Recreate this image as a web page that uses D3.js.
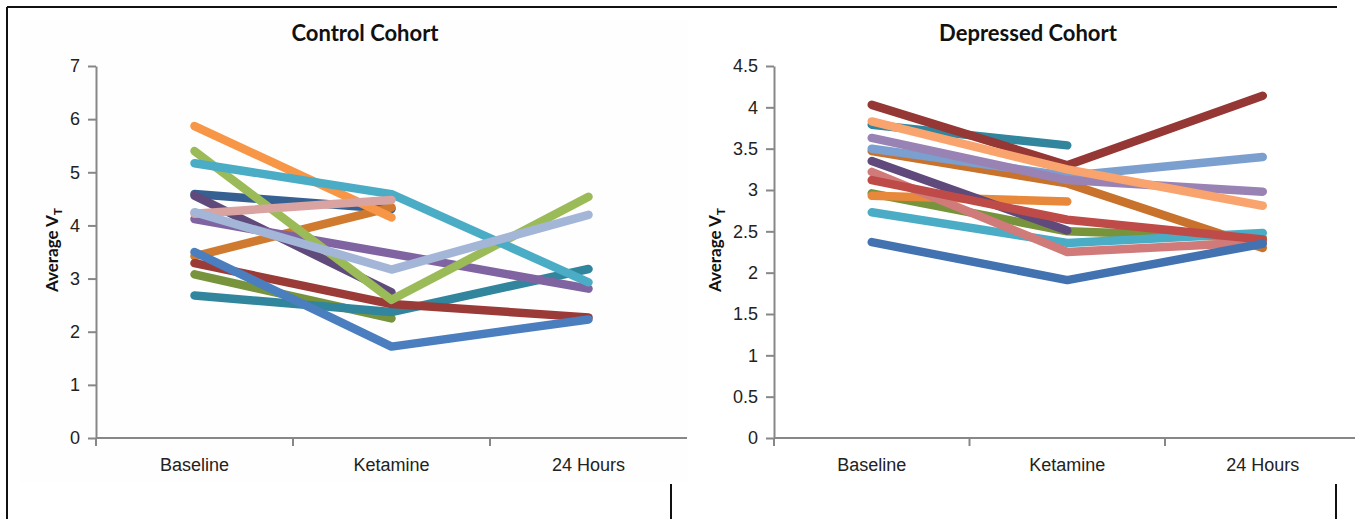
<!DOCTYPE html>
<html>
<head>
<meta charset="utf-8">
<script src="https://cdn.jsdelivr.net/npm/d3@7"></script>
<style>
  body { margin: 0; background: #fff; }
  svg { display: block; font-family: Lato, "Open Sans", sans-serif; }
  .axis path, .axis line { stroke: #878787; stroke-width: 2px; }
  .axis text { fill: #222; font-size: 18px; }
  .title { font-size: 22px; font-weight: bold; fill: #111; }
  .ytitle { font-size: 17px; font-weight: bold; fill: #111; }
  .series { fill: none; stroke-width: 8.5px; stroke-linecap: round; stroke-linejoin: round; }
</style>
</head>
<body>
<svg id="chart" width="1355" height="519"></svg>
<script>

var categories = ["Baseline", "Ketamine", "24 Hours"]

// ---control cohort, one row per subject [baseline, ketamine, 24h]---
var controlValues = [
  [4.59, 4.31, null],
  [3.42, 4.34, null],
  [4.56, 2.74, null],
  [3.08, 2.25, null],
  [2.68, 2.37, 3.18],
  [3.29, 2.52, 2.27],
  [4.12, 3.47, 2.81],
  [5.40, 2.60, 4.54],
  [5.87, 4.15, null],
  [5.17, 4.59, 2.93],
  [4.22, 4.48, null],
  [4.25, 3.17, 4.20],
  [3.50, 1.72, 2.23]
]
var controlColors = ["#376092", "#d07a30", "#5f4a7b", "#77933c", "#31859c", "#9b3b38", "#8064a2",
  "#9bbb59", "#f79646", "#4bacc6", "#d9a3a1", "#a4b6d7", "#4a7ebf"]
var controlTicks = [0, 1, 2, 3, 4, 5, 6, 7]

// ---depressed cohort---
var depressedValues = [
  [3.47, 3.08, 2.30],
  [3.79, 3.54, null],
  [2.96, 2.50, 2.42],
  [2.93, 2.86, null],
  [3.35, 2.51, null],
  [2.73, 2.36, 2.48],
  [3.22, 2.25, 2.37],
  [3.50, 3.17, 3.40],
  [3.63, 3.12, 2.98],
  [3.12, 2.64, 2.40],
  [2.37, 1.91, 2.35],
  [4.03, 3.30, 4.14],
  [3.83, 3.25, 2.81]
]
var depressedColors = ["#c8722c", "#31859c", "#77933c", "#e8883a", "#5f4a7b", "#4bacc6", "#d07a7a",
  "#7b9fcf", "#9983b5", "#be4b48", "#4372b0", "#953735", "#f9a46e"]
var depressedTicks = [0, 0.5, 1, 1.5, 2, 2.5, 3, 3.5, 4, 4.5]

var svg = d3.select("#chart")

// frame of the screenshot
svg.append("rect").attr("x", 20).attr("y", 20).attr("width", 668).attr("height", 462).attr("fill", "#fefefe")
svg.append("line").attr("x1", 7).attr("x2", 1337).attr("y1", 7).attr("y2", 7).attr("stroke", "#111").attr("stroke-width", 2)
svg.append("line").attr("x1", 7).attr("x2", 7).attr("y1", 7).attr("y2", 519).attr("stroke", "#111").attr("stroke-width", 2)
svg.append("line").attr("x1", 671).attr("x2", 671).attr("y1", 484).attr("y2", 519).attr("stroke", "#111").attr("stroke-width", 2)
svg.append("line").attr("x1", 1336).attr("x2", 1336).attr("y1", 484).attr("y2", 519).attr("stroke", "#111").attr("stroke-width", 2)

function buildCohortChart(opt)
{
  var xScale = d3.scaleBand()
      .domain(categories)
      .range([opt.left, opt.left + 3 * opt.step])

  var yScale = d3.scaleLinear()
      .domain([0, opt.max])
      .range([438, 66])

  var g = svg.append("g")

  // y axis
  g.append("g")
      .attr("class", "axis")
      .attr("transform", "translate(" + opt.left + ",0)")
      .call(d3.axisLeft(yScale)
          .tickValues(opt.ticks)
          .tickSize(8)
          .tickSizeOuter(0)
          .tickPadding(8)
          .tickFormat(d3.format("")))

  // x axis, labels at band centres
  var xAxis = g.append("g")
      .attr("class", "axis")
      .attr("transform", "translate(0,438)")
      .call(d3.axisBottom(xScale).tickSize(0).tickPadding(20))
  xAxis.select(".domain").attr("d", "M" + opt.left + ",0H" + opt.axisEnd)

  // tick marks on the band edges
  g.selectAll(".xtick")
      .data(categories)
      .enter().append("line")
      .attr("class", "xtick")
      .attr("x1", function(d) { return xScale(d); })
      .attr("x2", function(d) { return xScale(d); })
      .attr("y1", 438).attr("y2", 446)
      .attr("stroke", "#878787").attr("stroke-width", 2)

  var line = d3.line()
      .defined(function(d) { return d != null; })
      .x(function(d, i) { return xScale(categories[i]) + xScale.bandwidth() / 2; })
      .y(function(d) { return yScale(d); })

  g.selectAll(".series")
      .data(opt.values)
      .enter().append("path")
      .attr("class", "series")
      .attr("stroke", function(d, i) { return opt.colors[i]; })
      .attr("d", line)

  g.append("text")
      .attr("class", "title")
      .attr("x", opt.titleX).attr("y", 41)
      .attr("text-anchor", "middle")
      .text(opt.title)

  var yt = g.append("text")
      .attr("class", "ytitle")
      .attr("transform", "translate(" + opt.yTitleX + ",250) rotate(-90)")
      .attr("text-anchor", "middle")
  yt.append("tspan").text("Average V")
  yt.append("tspan").attr("font-size", "12px").attr("dy", 4).text("T")
}

buildCohortChart({
  left: 96, step: 197, axisEnd: 687, max: 7,
  ticks: controlTicks, values: controlValues, colors: controlColors,
  title: "Control Cohort", titleX: 365, yTitleX: 58
})

buildCohortChart({
  left: 774, step: 195.5, axisEnd: 1355, max: 4.5,
  ticks: depressedTicks, values: depressedValues, colors: depressedColors,
  title: "Depressed Cohort", titleX: 1028, yTitleX: 721
})

</script>
</body>
</html>
